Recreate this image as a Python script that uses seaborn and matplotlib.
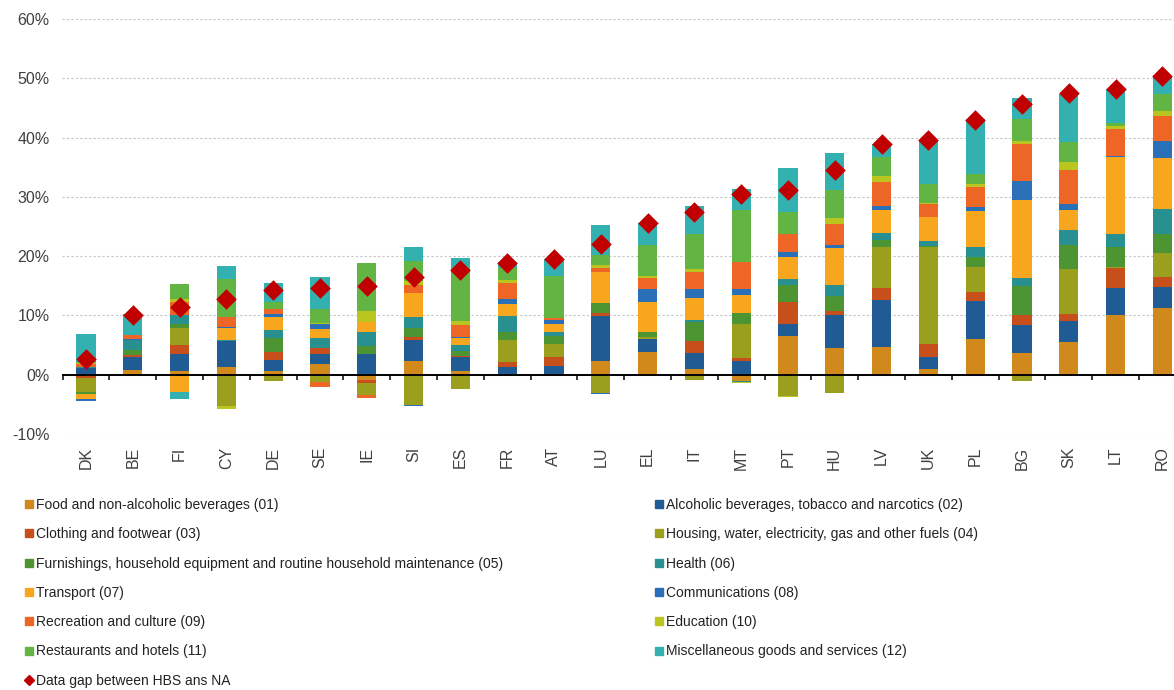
import numpy as np
import matplotlib
matplotlib.use("Agg")
import matplotlib.pyplot as plt
from matplotlib.lines import Line2D
import seaborn as sns

# Countries, ordered by the size of the gap
countries = ["DK", "BE", "FI", "CY", "DE", "SE", "IE", "SI", "ES", "FR", "AT", "LU",
             "EL", "IT", "MT", "PT", "HU", "LV", "UK", "PL", "BG", "SK", "LT", "RO"]

# Contribution of each COICOP division to the gap (percentage points)
food = [0, 0.85, 0.7, 1.3, 0.7, 1.75, -0.9, 2.35, 0.7, 0, 0, 2.35,
        3.75, 0.9, -1.0, 6.55, 4.45, 4.7, 0.95, 6.05, 3.6, 5.45, 10.05, 11.25]
alcohol = [1.2, 2.1, 2.75, 4.4, 1.85, 1.8, 3.55, 3.5, 2.35, 1.35, 1.5, 7.5,
           2.35, 2.7, 2.35, 2.05, 5.65, 7.95, 2.05, 6.45, 4.8, 3.55, 4.6, 3.6]
clothing = [-0.5, 0.45, 1.6, 0, 1.3, 0.9, -0.45, 0.45, 0.15, 0.8, 1.45, 0.6,
            -0.2, 2.15, 0.4, 3.6, 0.6, 2.0, 2.1, 1.45, 1.65, 1.25, 3.4, 1.7]
housing = [-2.4, 0, 2.75, -5.3, -1.1, -1.2, -2.1, -5.05, -2.4, 3.7, 2.3, -3.1,
           0.2, -0.9, 5.8, -3.6, -3.05, 6.9, 16.45, 4.25, -1.1, 7.5, 0.15, 3.95]
furnishings = [-0.4, 0.7, 0.8, 0, 2.3, 0, 1.3, 1.6, 0.85, 1.3, 1.2, 1.65,
               0.9, 3.15, 1.9, 2.9, 2.55, 1.25, 0.2, 1.6, 4.85, 4.2, 3.3, 3.3]
health = [0.15, 1.7, 1.4, 0.2, 1.4, 1.7, 2.3, 1.9, 1.0, 2.7, 0.8, 0,
          0, 0.35, -0.2, 1.05, 1.85, 1.05, 0.85, 1.7, 1.45, 2.5, 2.3, 4.15]
transport = [-0.85, 0, -2.9, 2.0, 2.25, 1.6, 1.7, 3.9, 1.1, 2.1, 1.35, 5.25,
             5.1, 3.7, 2.95, 3.7, 6.25, 4.0, 3.95, 6.1, 13.1, 3.3, 12.9, 8.55]
communications = [-0.3, 0.3, 0, 0.2, 0.4, 0.85, 0, -0.2, 0.2, 0.85, 0.6, -0.15,
                  2.1, 1.45, 1.05, 0.85, 0.6, 0.55, 0, 0.7, 3.15, 1.05, 0.2, 2.95]
recreation = [0.4, 0.6, 2.3, 1.7, 0.9, -0.8, -0.45, 1.5, 2.1, 2.75, 0.3, 0.6,
              1.9, 2.9, 4.6, 3.1, 3.5, 4.15, 2.3, 3.3, 6.25, 5.8, 4.55, 4.15]
education = [0.2, 0, 0.4, -0.4, 0, 0.2, 1.85, 0.55, 0.55, 0.35, -0.3, 0.6,
             0.4, 0.6, -0.15, -0.15, 1.05, 1.0, 0.15, 0.55, 0.6, 1.25, 0.45, 0.8]
restaurants = [0.2, -0.3, 2.6, 6.4, 1.1, 2.25, 8.15, 3.5, 9.15, 2.15, 7.15, 1.7,
               5.25, 5.8, 8.75, 3.6, 4.6, 3.15, 3.2, 1.7, 3.7, 3.4, 0.6, 2.95]
misc = [4.75, 3.5, -1.2, 2.1, 3.3, 5.4, 0, 2.35, 1.6, 0.95, 2.8, 4.95,
        3.6, 4.7, 3.5, 7.5, 6.25, 2.25, 7.3, 9.25, 3.5, 8.15, 5.65, 3.05]

# Total gap between HBS and national accounts
data_gap = [2.7, 10.0, 11.4, 12.8, 14.3, 14.7, 14.9, 16.4, 17.6, 18.9, 19.6, 22.0,
            25.6, 27.4, 30.4, 31.2, 34.6, 39.0, 39.6, 43.0, 45.6, 47.5, 48.2, 50.4]

labels = ["Food and non-alcoholic beverages (01)",
          "Alcoholic beverages, tobacco and narcotics (02)",
          "Clothing and footwear (03)",
          "Housing, water, electricity, gas and other fuels (04)",
          "Furnishings, household equipment and routine household maintenance (05)",
          "Health (06)",
          "Transport (07)",
          "Communications (08)",
          "Recreation and culture (09)",
          "Education (10)",
          "Restaurants and hotels (11)",
          "Miscellaneous goods and services (12)"]
gap_label = "Data gap between HBS ans NA"

colors = ["#D0891A", "#215B93", "#C64F1B", "#9AA01D", "#4D9433", "#289090",
          "#F8A61E", "#2A70B8", "#EE6625", "#BBC51F", "#62B443", "#33B0B0"]
gap_color = "#C00000"

series = [food, alcohol, clothing, housing, furnishings, health, transport,
          communications, recreation, education, restaurants, misc]

sns.set_theme(style="white")
plt.rcParams["font.family"] = ["Liberation Sans", "DejaVu Sans"]

W, H = 1174, 690
fig = plt.figure(figsize=(W / 100, H / 100), dpi=100)
ax = fig.add_axes([62 / W, 1 - 434 / H, (W - 62) / W, (434 - 19) / H])

# Stacked bars: positive parts grow upward, negative parts downward
pos_base = np.zeros(len(countries))
neg_base = np.zeros(len(countries))
for vals, col in zip(series, colors):
    v = np.asarray(vals, dtype=float)
    bottom = np.where(v >= 0, pos_base, neg_base)
    sns.barplot(x=countries, y=v, bottom=bottom, color=col, width=0.41,
                errorbar=None, saturation=1, linewidth=0, ax=ax, zorder=3)
    pos_base += np.clip(v, 0, None)
    neg_base += np.clip(v, None, 0)

sns.stripplot(x=countries, y=data_gap, jitter=False, marker="D", size=10.5,
              color=gap_color, linewidth=0, ax=ax, zorder=6)

# Axis styling
ax.set_ylim(-10, 60)
ax.set_xlim(-0.513, 23.25)
yt = np.arange(-10, 61, 10)
ax.set_yticks(yt)
ax.set_yticklabels([f"{t}%" for t in yt])
ax.yaxis.grid(True, linestyle=(0, (2, 2)), color="#C4C4C4", linewidth=0.8, zorder=0)
ax.xaxis.grid(False)
for s in ax.spines.values():
    s.set_visible(False)
ax.tick_params(axis="y", length=0, pad=9, labelsize=11.5, labelcolor="#404040")
ax.tick_params(axis="x", length=0, pad=9, labelsize=11.5, labelcolor="#404040",
               labelrotation=90)
ax.set_xlabel("")
ax.set_ylabel("")

# Zero line with category separators hanging below it
ax.axhline(0, color="black", linewidth=1.4, zorder=4)
bounds = np.arange(len(countries) + 1) - 0.5
ax.vlines(bounds, -0.85, 0, color="black", linewidth=1.1, zorder=4)

# Legend in two columns
def handle(c, m="s", ms=5.5):
    return Line2D([], [], marker=m, color=c, linestyle="", markersize=ms)

left_idx = [0, 2, 4, 6, 8, 10]
right_idx = [1, 3, 5, 7, 9, 11]
left_h = [handle(colors[i]) for i in left_idx] + [handle(gap_color, "D", 5)]
left_l = [labels[i] for i in left_idx] + [gap_label]
right_h = [handle(colors[i]) for i in right_idx]
right_l = [labels[i] for i in right_idx]

leg_kw = dict(loc="upper left", frameon=False, fontsize=10, borderpad=0,
              borderaxespad=0, handlelength=0.5, handletextpad=0.25,
              labelspacing=1.1, labelcolor="#222222")
fig.legend(left_h, left_l, bbox_to_anchor=(26 / W, 1 - 498 / H), **leg_kw)
fig.legend(right_h, right_l, bbox_to_anchor=(656 / W, 1 - 498 / H), **leg_kw)

fig.savefig("out.png", dpi=100)
